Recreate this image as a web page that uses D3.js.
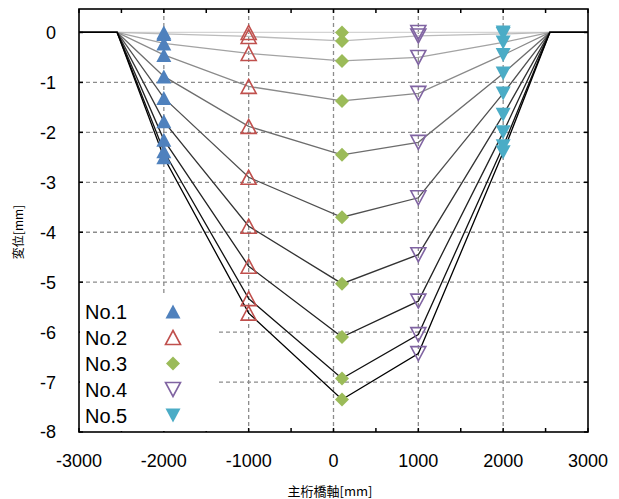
<!DOCTYPE html>
<html><head><meta charset="utf-8">
<script src="https://cdn.jsdelivr.net/npm/d3@7"></script>
<style>body{margin:0;background:#fff;} svg{display:block;}</style>
</head><body>
<svg id="c" width="619" height="499"></svg>
<script>
// ---- data ----
const seriesNames = ["No.1", "No.2", "No.3", "No.4", "No.5"];
const seriesX = [-2000, -1000, 100, 1000, 2000];
const supportX = [-3000, -2550, 2550, 3000];
const no1 = [0, -0.03, -0.22, -0.45, -0.88, -1.31, -1.78, -2.15, -2.38, -2.5];
const no2 = [0, -0.08, -0.42, -1.08, -1.88, -2.9, -3.88, -4.68, -5.33, -5.62];
const no3 = [0, -0.17, -0.57, -1.37, -2.45, -3.7, -5.03, -6.1, -6.93, -7.35];
const no4 = [0, -0.07, -0.5, -1.22, -2.2, -3.31, -4.45, -5.38, -6.05, -6.43];
const no5 = [0, -0.03, -0.2, -0.45, -0.82, -1.22, -1.65, -2.0, -2.28, -2.4];
const xTicks = [-3000, -2000, -1000, 0, 1000, 2000, 3000];
const yTicks = [0, -1, -2, -3, -4, -5, -6, -7, -8];
const xTitle = "主桁橋軸[mm]";
const yTitle = "変位[mm]";

const seriesVals = [no1, no2, no3, no4, no5];
const nCases = no1.length;

const svg = d3.select("#c");
const L = 79, R = 588, T = 9, B = 432;
const x = d3.scaleLinear().domain([-3000, 3000]).range([L, R]);
const y = d3.scaleLinear().domain([-8, 0.47]).range([B, T]);

// grid
const grid = svg.append("g").attr("stroke", "#8c8c8c").attr("stroke-width", 1.3).attr("stroke-dasharray", "4,3");
xTicks.filter(t => t > -3000 && t < 3000).forEach(t => {
  grid.append("line").attr("x1", x(t)).attr("x2", x(t)).attr("y1", T).attr("y2", B);
});
yTicks.filter(t => t < 0 && t > -8).forEach(t => {
  grid.append("line").attr("x1", L).attr("x2", R).attr("y1", y(t)).attr("y2", y(t));
});

// lines
const grey = d3.scaleLinear().domain([0, 3, 6, nCases - 1]).range(["#d4d4d4", "#8a8a8a", "#333333", "#000000"]);
const lineGen = d3.line().x(d => x(d[0])).y(d => y(d[1]));
for (let i = 0; i < nCases; i++) {
  const pts = [[supportX[0], 0], [supportX[1], 0]];
  seriesX.forEach((sx, k) => pts.push([sx, seriesVals[k][i]]));
  pts.push([supportX[2], 0], [supportX[3], 0]);
  svg.append("path").attr("d", lineGen(pts)).attr("fill", "none")
    .attr("stroke", grey(i)).attr("stroke-width", 1.3);
}

// markers
const colors = ["#4F81BD", "#C0504D", "#9BBB59", "#8064A2", "#4BACC6"];
function markerPath(k) {
  const w = 7.5, h = 7;
  if (k === 0 || k === 1) return `M0,${-h}L${w},${h}L${-w},${h}Z`;
  if (k === 2) return `M0,-7L7,0L0,7L-7,0Z`;
  return `M${-w},${-h}L${w},${-h}L0,${h}Z`;
}
function drawMarker(g, k, cx, cy) {
  const p = g.append("path").attr("d", markerPath(k)).attr("transform", `translate(${cx},${cy})`);
  if (k === 1 || k === 3) {
    p.attr("fill", "#fff").attr("fill-opacity", 0).attr("stroke", colors[k]).attr("stroke-width", 1.6);
  } else {
    p.attr("fill", colors[k]);
  }
}
const mg = svg.append("g");
seriesX.forEach((sx, k) => {
  seriesVals[k].forEach(v => drawMarker(mg, k, x(sx), y(v)));
});

// frame & ticks
const fr = svg.append("g").attr("stroke", "#000").attr("stroke-width", 1.5);
d3.range(-3000, 3001, 500).forEach(t => {
  const len = 4;
  fr.append("line").attr("x1", x(t)).attr("x2", x(t)).attr("y1", B).attr("y2", B - len);
  fr.append("line").attr("x1", x(t)).attr("x2", x(t)).attr("y1", T).attr("y2", T + len);
});
yTicks.forEach(t => {
  fr.append("line").attr("x1", L).attr("x2", L + 4).attr("y1", y(t)).attr("y2", y(t));
  fr.append("line").attr("x1", R).attr("x2", R - 4).attr("y1", y(t)).attr("y2", y(t));
});
svg.append("rect").attr("x", L).attr("y", T).attr("width", R - L).attr("height", B - T)
  .attr("fill", "none").attr("stroke", "#000").attr("stroke-width", 1.6);

// legend
const lg = svg.append("g");
lg.append("rect").attr("x", L + 1).attr("y", 293).attr("width", 137).attr("height", B - 294).attr("fill", "#fff");
seriesNames.forEach((n, k) => {
  const cy = 311.5 + k * 26;
  lg.append("text").attr("x", 85).attr("y", cy).attr("dy", "0.36em")
    .attr("font-family", "Liberation Sans, Arial, sans-serif").attr("font-size", 20).attr("fill", "#000").text(n);
  drawMarker(lg, k, 173, cy);
});

// tick labels
const tf = "Liberation Sans, Arial, sans-serif";
xTicks.forEach(t => {
  svg.append("text").attr("x", x(t)).attr("y", 467).attr("text-anchor", "middle")
    .attr("font-family", tf).attr("font-size", 18).attr("fill", "#000").text(t);
});
yTicks.forEach(t => {
  svg.append("text").attr("x", 56).attr("y", y(t)).attr("dy", "0.36em").attr("text-anchor", "end")
    .attr("font-family", tf).attr("font-size", 18).attr("fill", "#000").text(t);
});

// titles
svg.append("text").attr("x", 330).attr("y", 496).attr("text-anchor", "middle")
  .attr("font-family", "Noto Sans CJK JP, sans-serif").attr("font-size", 13).attr("fill", "#000").text(xTitle);
svg.append("text").attr("transform", "translate(23,232) rotate(-90)").attr("text-anchor", "middle")
  .attr("font-family", "Noto Sans CJK JP, sans-serif").attr("font-size", 12).attr("fill", "#000").text(yTitle);
</script>
</body></html>
